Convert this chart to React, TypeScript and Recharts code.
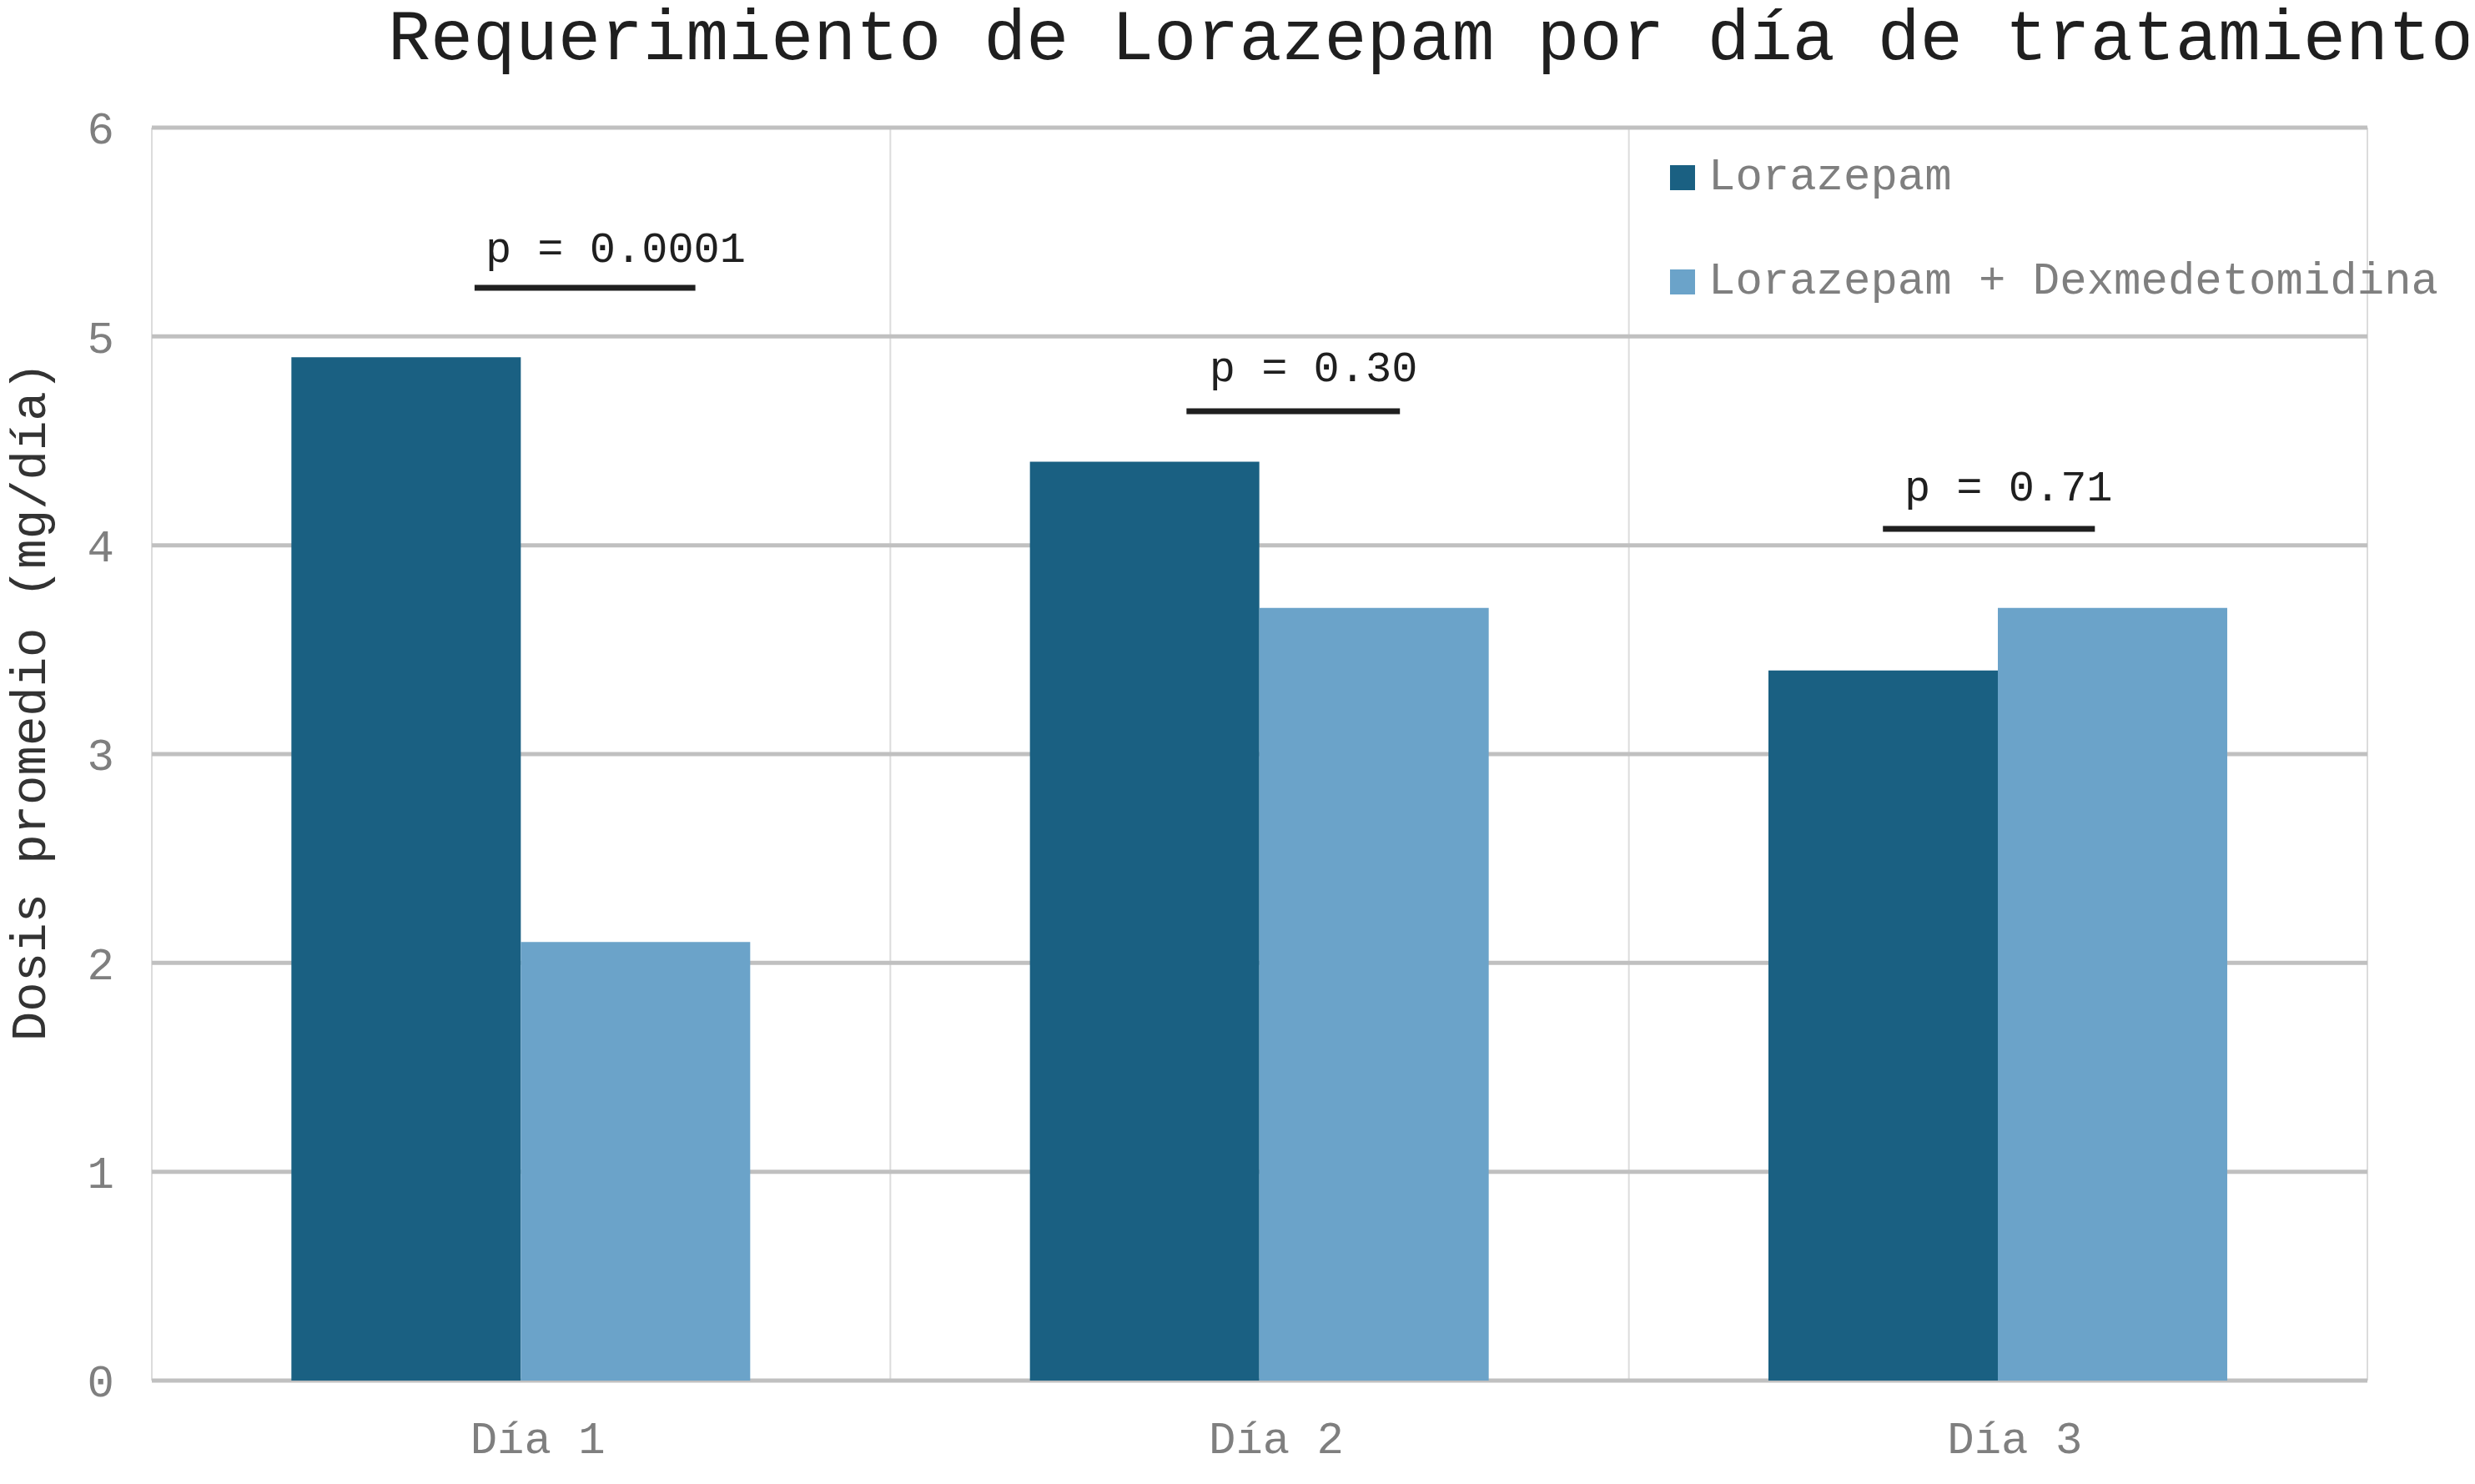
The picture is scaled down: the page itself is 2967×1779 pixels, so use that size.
import {
  BarChart,
  Bar,
  XAxis,
  YAxis,
  CartesianGrid,
  Legend,
  ReferenceLine,
  ReferenceDot,
} from 'recharts';

const dias = ['Día 1', 'Día 2', 'Día 3'];
const lorazepam = [4.9, 4.4, 3.4];
const lorazepamDex = [2.1, 3.7, 3.7];
const yTicks = [0, 1, 2, 3, 4, 5, 6];

// p-value annotations, in data units (x on a 0..3 band scale, y in mg/día)
const pTexts = ['p = 0.0001', 'p = 0.30', 'p = 0.71'];
const pTextX = [0.628, 1.573, 2.514];
const pTextY = [5.43, 4.86, 4.29];
const pLineX1 = [0.437, 1.401, 2.344];
const pLineX2 = [0.736, 1.69, 2.631];
const pLineY = [5.233, 4.642, 4.079];

const data = dias.map((dia, i) => ({
  dia,
  slot: i,
  lorazepam: lorazepam[i],
  lorazepamDex: lorazepamDex[i],
}));

const FONT = '"Liberation Mono", "Courier New", monospace';
const DARK = '#1a6082';
const LIGHT = '#6ba3c9';
const W = 2951;
const H = 1763;

const renderLegend = ({ payload }: any) => (
  <div>
    {(payload || []).map((entry: any) => (
      <div
        key={entry.value}
        style={{ display: 'flex', alignItems: 'center', height: 125 }}
      >
        <span
          style={{
            display: 'inline-block',
            width: 30,
            height: 30,
            background: entry.color,
            marginRight: 16,
          }}
        />
        <span
          style={{
            fontFamily: FONT,
            fontSize: 54,
            color: '#7f7f7f',
            lineHeight: 1,
            whiteSpace: 'nowrap',
          }}
        >
          {entry.value}
        </span>
      </div>
    ))}
  </div>
);

const App = () => (
  <div style={{ position: 'relative', width: W, height: H }}>
    <BarChart
      width={W}
      height={H}
      data={data}
      margin={{ top: 145, right: 121, left: 0, bottom: 16 }}
      barCategoryGap="18.9%"
      barGap={0}
    >
      <CartesianGrid
        horizontal={false}
        stroke="#dcdcdc"
        strokeWidth={2}
        verticalCoordinatesGenerator={({ offset }: any) =>
          [0, 1, 2, 3].map((i) => offset.left + (offset.width * i) / dias.length)
        }
      />
      <CartesianGrid vertical={false} stroke="#c0c0c0" strokeWidth={5} />
      <XAxis
        dataKey="dia"
        height={100}
        axisLine={false}
        tickLine={false}
        tickSize={0}
        tickMargin={49}
        tick={{ fill: '#7f7f7f', fontSize: 54, fontFamily: FONT, dx: 20 }}
      />
      <XAxis
        xAxisId="num"
        dataKey="slot"
        type="number"
        domain={[0, dias.length]}
        allowDataOverflow
        hide
      />
      <YAxis
        width={174}
        domain={[0, 6]}
        ticks={yTicks}
        interval={0}
        axisLine={false}
        tickLine={false}
        tickSize={0}
        tickMargin={45}
        tick={{ fill: '#7f7f7f', fontSize: 54, fontFamily: FONT }}
      />
      <Legend
        layout="vertical"
        align="center"
        verticalAlign="middle"
        wrapperStyle={{ left: 1994, top: 142, width: 'auto' }}
        content={renderLegend}
      />
      <Bar dataKey="lorazepam" name="Lorazepam" fill={DARK} isAnimationActive={false} />
      <Bar
        dataKey="lorazepamDex"
        name="Lorazepam + Dexmedetomidina"
        fill={LIGHT}
        isAnimationActive={false}
      />
      {pTexts.map((t, i) => (
        <ReferenceLine
          key={`line-${i}`}
          xAxisId="num"
          segment={[
            { x: pLineX1[i], y: pLineY[i] },
            { x: pLineX2[i], y: pLineY[i] },
          ]}
          stroke="#1f1f1f"
          strokeWidth={7}
          ifOverflow="visible"
        />
      ))}
      {pTexts.map((t, i) => (
        <ReferenceDot
          key={`text-${i}`}
          xAxisId="num"
          x={pTextX[i]}
          y={pTextY[i]}
          r={0}
          fill="none"
          stroke="none"
          ifOverflow="visible"
          label={{
            value: t,
            position: 'center',
            fill: '#1f1f1f',
            fontSize: 52,
            fontFamily: FONT,
          }}
        />
      ))}
    </BarChart>
    {/* title and y-axis title, drawn in page coordinates over the chart */}
    <svg
      width={2967}
      height={1779}
      style={{
        position: 'absolute',
        left: -8,
        top: -8,
        pointerEvents: 'none',
        overflow: 'visible',
      }}
    >
      <text
        x={465}
        y={71}
        textLength={2500}
        lengthAdjust="spacing"
        fontFamily={FONT}
        fontSize={85}
        fill="#1f1f1f"
      >
        Requerimiento de Lorazepam por día de tratamiento
      </text>
      <text
        x={54}
        y={841}
        transform="rotate(-90, 54, 841)"
        textAnchor="middle"
        fontFamily={FONT}
        fontSize={59}
        fill="#333333"
      >
        Dosis promedio (mg/día)
      </text>
    </svg>
  </div>
);

export default App;
